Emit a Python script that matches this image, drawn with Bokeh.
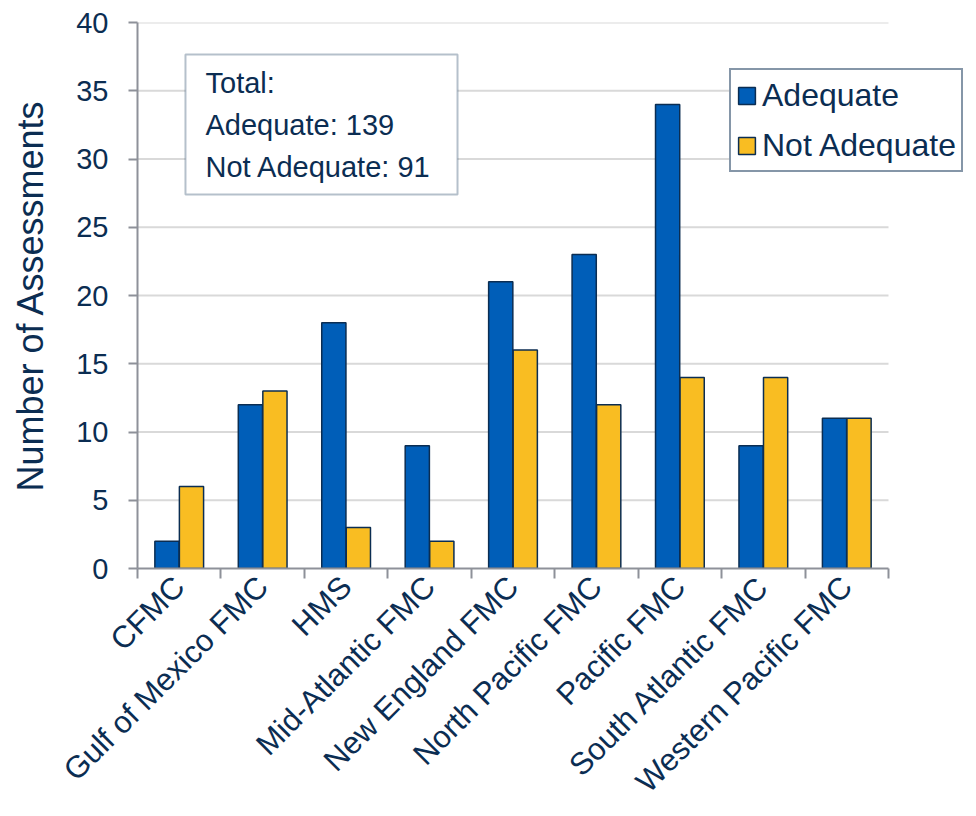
from bokeh.plotting import figure
from bokeh.models import FixedTicker, Label, BoxAnnotation, Legend, LegendItem, Range1d
from bokeh.embed import file_html
from bokeh.resources import INLINE
import math

categories = ["CFMC", "Gulf of Mexico FMC", "HMS", "Mid-Atlantic FMC", "New England FMC",
              "North Pacific FMC", "Pacific FMC", "South Atlantic FMC", "Western Pacific FMC"]
adequate = [2, 12, 18, 9, 21, 23, 34, 9, 11]
not_adequate = [6, 13, 3, 2, 16, 12, 14, 14, 11]
y_ticks = [0, 5, 10, 15, 20, 25, 30, 35, 40]
series_names = ["Adequate", "Not Adequate"]
total_lines = ["Total:", "Adequate: %d" % sum(adequate), "Not Adequate: %d" % sum(not_adequate)]

NAVY = "#0B2D52"
BLUE = "#005EB8"
YELLOW = "#F9BD22"
AXIS = "#8E9199"
FONT = "Liberation Sans"

n = len(categories)
# frame spans 137..970 px; the 9 categories occupy 137..888 px (83.44 px each)
x_end = (970 - 137) / ((888 - 137) / n)
p = figure(width=976, height=816, output_backend="svg", toolbar_location=None,
           x_range=Range1d(0, x_end), y_range=Range1d(0, 40),
           min_border_left=137, min_border_right=6, min_border_top=22, min_border_bottom=248)
p.outline_line_color = None
p.background_fill_color = "white"
p.xgrid.grid_line_color = None
p.ygrid.grid_line_color = None

# horizontal gridlines limited to the category span
gy = y_ticks[1:]
p.segment(x0=[0] * len(gy), x1=[n] * len(gy), y0=gy, y1=gy, line_color="#D9D9D9", line_width=2)

centers = [i + 0.5 for i in range(n)]
xb = [c - 0.147 for c in centers]
xy = [c + 0.147 for c in centers]
w = 0.29
r1 = p.vbar(x=xb, top=adequate, bottom=0, width=w, fill_color=BLUE, line_color=NAVY, line_width=1.5)
r2 = p.vbar(x=xy, top=not_adequate, bottom=0, width=w, fill_color=YELLOW, line_color=NAVY, line_width=1.5)

# x axis
p.xaxis.bounds = (0, n)
p.xaxis.ticker = FixedTicker(ticks=centers, minor_ticks=list(range(n + 1)))
p.xaxis.major_label_overrides = {c: categories[i] for i, c in enumerate(centers)}
p.xaxis.major_tick_line_color = None
p.xaxis.minor_tick_line_color = AXIS
p.xaxis.minor_tick_line_width = 2
p.xaxis.minor_tick_out = 10
p.xaxis.minor_tick_in = 0
p.xaxis.major_label_orientation = math.pi / 4
p.xaxis.major_label_text_font = FONT
p.xaxis.major_label_text_font_size = "31px"
p.xaxis.major_label_text_color = NAVY
p.xaxis.major_label_standoff = 3
p.xaxis.axis_line_color = AXIS
p.xaxis.axis_line_width = 2

# y axis
p.yaxis.ticker = FixedTicker(ticks=y_ticks)
p.yaxis.minor_tick_line_color = None
p.yaxis.major_tick_line_color = AXIS
p.yaxis.major_tick_line_width = 2
p.yaxis.major_tick_out = 9
p.yaxis.major_tick_in = 0
p.yaxis.major_label_text_font = FONT
p.yaxis.major_label_text_font_size = "29px"
p.yaxis.major_label_text_color = NAVY
p.yaxis.major_label_standoff = 20
p.yaxis.axis_line_color = AXIS
p.yaxis.axis_line_width = 2
p.yaxis.axis_label = "Number of Assessments"
p.yaxis.axis_label_text_font = FONT
p.yaxis.axis_label_text_font_size = "36px"
p.yaxis.axis_label_text_font_style = "normal"
p.yaxis.axis_label_text_color = NAVY
p.yaxis.axis_label_standoff = 22

# total box
box = BoxAnnotation(left=0.575, right=3.835, bottom=27.4, top=37.66,
                    fill_color="white", fill_alpha=1, line_color=NAVY, line_width=2, level="overlay")
p.add_layout(box)
for txt, yy in zip(total_lines, [35.6, 32.52, 29.4]):
    p.add_layout(Label(x=0.815, y=yy, text=txt, text_font=FONT, text_font_size="29px",
                       text_color=NAVY, text_baseline="middle", text_align="left", level="overlay"))

legend = Legend(items=[LegendItem(label=series_names[0], renderers=[r1]),
                       LegendItem(label=series_names[1], renderers=[r2])],
                location=(592, 396))
legend.label_text_font = FONT
legend.label_text_font_size = "32px"
legend.label_text_color = NAVY
legend.glyph_width = 21
legend.glyph_height = 21
legend.label_height = 40
legend.spacing = 10
legend.padding = 5
legend.margin = 0
legend.label_standoff = 5
legend.border_line_color = NAVY
legend.border_line_width = 2
legend.background_fill_alpha = 1
p.add_layout(legend, "center")

open("out.html", "w").write(file_html(p, INLINE))
